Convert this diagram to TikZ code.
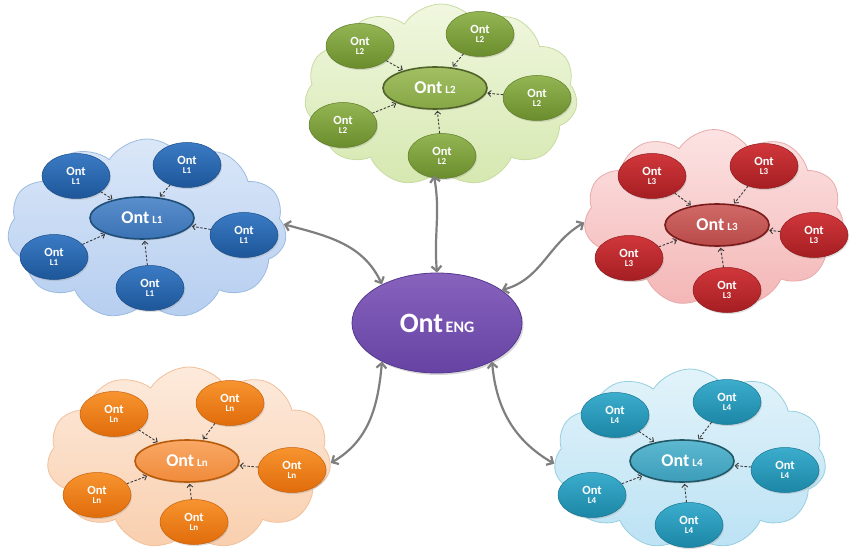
\documentclass[tikz,border=0pt]{standalone}
\usepackage{fontspec}
\setmainfont{Carlito}
\usetikzlibrary{shapes.geometric,shapes.symbols,arrows.meta,shadows}

% palette: <set><part><T|B|E> = top, bottom, edge
\definecolor{BcloudT}{HTML}{DAE7F8}\definecolor{BcloudB}{HTML}{B6CEF0}\definecolor{BcloudE}{HTML}{9DBBE0}
\definecolor{BleafT}{HTML}{3B7BC4}\definecolor{BleafB}{HTML}{1D5699}\definecolor{BleafE}{HTML}{1A4C86}
\definecolor{BhubT}{HTML}{5A8FCC}\definecolor{BhubB}{HTML}{3A72B4}\definecolor{BhubE}{HTML}{1F4E79}

\definecolor{GcloudT}{HTML}{F0F7DF}\definecolor{GcloudB}{HTML}{D6E8B0}\definecolor{GcloudE}{HTML}{C8DCA2}
\definecolor{GleafT}{HTML}{93B553}\definecolor{GleafB}{HTML}{6A8C2C}\definecolor{GleafE}{HTML}{5E7D26}
\definecolor{GhubT}{HTML}{A2C063}\definecolor{GhubB}{HTML}{86A645}\definecolor{GhubE}{HTML}{4F6228}

\definecolor{RcloudT}{HTML}{FCE3E3}\definecolor{RcloudB}{HTML}{F4B6B6}\definecolor{RcloudE}{HTML}{E8AAAA}
\definecolor{RleafT}{HTML}{D0373B}\definecolor{RleafB}{HTML}{A51E22}\definecolor{RleafE}{HTML}{8E1A1D}
\definecolor{RhubT}{HTML}{D06A68}\definecolor{RhubB}{HTML}{B84A48}\definecolor{RhubE}{HTML}{7A1A1A}

\definecolor{OcloudT}{HTML}{FDEADC}\definecolor{OcloudB}{HTML}{F9CFAE}\definecolor{OcloudE}{HTML}{F2C09A}
\definecolor{OleafT}{HTML}{F7942F}\definecolor{OleafB}{HTML}{E06C0A}\definecolor{OleafE}{HTML}{C95F08}
\definecolor{OhubT}{HTML}{F9A865}\definecolor{OhubB}{HTML}{F08A3A}\definecolor{OhubE}{HTML}{B85B0A}

\definecolor{TcloudT}{HTML}{E2F3FA}\definecolor{TcloudB}{HTML}{BCE2F4}\definecolor{TcloudE}{HTML}{95CFDF}
\definecolor{TleafT}{HTML}{3CADCD}\definecolor{TleafB}{HTML}{1C86A6}\definecolor{TleafE}{HTML}{187592}
\definecolor{ThubT}{HTML}{5DB8D0}\definecolor{ThubB}{HTML}{3C9DBA}\definecolor{ThubE}{HTML}{205867}

\definecolor{PengT}{HTML}{8763BD}\definecolor{PengB}{HTML}{6643A3}\definecolor{PengE}{HTML}{553890}
\definecolor{linkgray}{HTML}{7F7F7F}
\definecolor{feedgray}{HTML}{3A3A3A}

\newcommand\leaftext[1]{Ont\\[-2.5pt]{\fontsize{9}{9}\selectfont #1}}
\newcommand\hubtext[1]{{\fontsize{18}{18}\selectfont Ont}\hspace{0.3em}{\fontsize{11}{11}\selectfont #1}}

\tikzset{
  cloudbox/.style={cloud, cloud puffs=11, cloud puff arc=115, cloud ignores aspect,
    top color=#1cloudT, bottom color=#1cloudB, draw=#1cloudE, line width=0.8pt, inner sep=0pt},
  leaf/.style={ellipse, minimum width=68pt, minimum height=45pt, inner sep=0pt,
    top color=#1leafT, bottom color=#1leafB, draw=#1leafE, line width=0.5pt,
    text=white, font=\bfseries\fontsize{12.5}{12}\selectfont, align=center,
    drop shadow={opacity=0.25, shadow xshift=1pt, shadow yshift=-1.5pt}},
  hub/.style={ellipse, minimum width=104pt, minimum height=42pt, inner sep=0pt,
    top color=#1hubT, bottom color=#1hubB, draw=#1hubE, line width=1.6pt,
    text=white, font=\bfseries, align=center,
    drop shadow={opacity=0.25, shadow xshift=1pt, shadow yshift=-1.5pt}},
  feed/.style={draw=feedgray, line width=0.9pt, dash pattern=on 2.5pt off 1.6pt,
    -{Straight Barb[length=3pt,width=6pt]}, shorten >=1pt},
  link/.style={draw=linkgray, line width=2.2pt,
    {Straight Barb[length=5pt,width=10pt]}-{Straight Barb[length=5pt,width=10pt]}}
}

\begin{document}
\begin{tikzpicture}[x=1pt,y=1pt]
\fill[white] (0,0) rectangle (850,-553);
\useasboundingbox (0,0) rectangle (850,-553);

% clouds
\node[cloudbox=G, minimum width=273pt, minimum height=182pt] (c2) at (441,-95) {};
\node[cloudbox=B, minimum width=279pt, minimum height=180pt] (c1) at (147,-229) {};
\node[cloudbox=R, minimum width=260pt, minimum height=177pt] (c3) at (714,-218) {};
\node[cloudbox=O, minimum width=284pt, minimum height=182pt] (cn) at (189,-458) {};
\node[cloudbox=T, minimum width=272pt, minimum height=180pt] (c4) at (690,-459) {};

% central ontology
\node[ellipse, minimum width=170pt, minimum height=100pt, inner sep=0pt,
      top color=PengT, bottom color=PengB, draw=PengE, line width=0.8pt,
      text=white, font=\bfseries,
      drop shadow={opacity=0.3, shadow xshift=1.5pt, shadow yshift=-2pt}]
  (eng) at (437,-323) {{\fontsize{28}{28}\selectfont Ont}\hspace{0.25em}{\fontsize{16}{16}\selectfont ENG}};

% L2 group
\node[hub=G] (hub2) at (435,-88) {\hubtext{L2}};
\node[leaf=G] (s2a) at (360,-46) {\leaftext{L2}};
\node[leaf=G] (s2b) at (480,-34) {\leaftext{L2}};
\node[leaf=G] (s2c) at (537,-98) {\leaftext{L2}};
\node[leaf=G] (s2d) at (343,-125) {\leaftext{L2}};
\node[leaf=G] (s2e) at (442,-156) {\leaftext{L2}};

% L1 group
\node[hub=B] (hub1) at (142,-218) {\hubtext{L1}};
\node[leaf=B] (s1a) at (76,-176) {\leaftext{L1}};
\node[leaf=B] (s1b) at (187,-165) {\leaftext{L1}};
\node[leaf=B] (s1c) at (244,-235) {\leaftext{L1}};
\node[leaf=B] (s1d) at (54,-257) {\leaftext{L1}};
\node[leaf=B] (s1e) at (150,-288) {\leaftext{L1}};

% L3 group
\node[hub=R] (hub3) at (717,-225) {\hubtext{L3}};
\node[leaf=R] (s3a) at (652,-176) {\leaftext{L3}};
\node[leaf=R] (s3b) at (764,-166) {\leaftext{L3}};
\node[leaf=R] (s3c) at (814,-235) {\leaftext{L3}};
\node[leaf=R] (s3d) at (629,-258) {\leaftext{L3}};
\node[leaf=R] (s3e) at (727,-290) {\leaftext{L3}};

% Ln group
\node[hub=O] (hubn) at (187,-461) {\hubtext{Ln}};
\node[leaf=O] (sna) at (114,-414) {\leaftext{Ln}};
\node[leaf=O] (snb) at (230,-403) {\leaftext{Ln}};
\node[leaf=O] (snc) at (292,-470) {\leaftext{Ln}};
\node[leaf=O] (snd) at (97,-495) {\leaftext{Ln}};
\node[leaf=O] (sne) at (194,-522) {\leaftext{Ln}};

% L4 group
\node[hub=T] (hub4) at (682,-461) {\hubtext{L4}};
\node[leaf=T] (s4a) at (615,-415) {\leaftext{L4}};
\node[leaf=T] (s4b) at (727,-402) {\leaftext{L4}};
\node[leaf=T] (s4c) at (785,-470) {\leaftext{L4}};
\node[leaf=T] (s4d) at (592,-495) {\leaftext{L4}};
\node[leaf=T] (s4e) at (689,-525) {\leaftext{L4}};

% dashed feeds into each hub
\foreach \g in {1,2,3,4,n}
  \foreach \s in {a,b,c,d,e}
    \draw[feed] (s\g\s) -- (hub\g);

% links between the central ontology and the clouds
\draw[link] (c1.2) to[out=-15,in=115] (eng.145);
\draw[link] (c2.265) to[out=-80,in=95] (eng.90);
\draw[link] (eng.27) to[out=15,in=210] (c3.182);
\draw[link] (eng.215) to[out=265,in=30] (cn.358);
\draw[link] (eng.325) to[out=275,in=150] (c4.182);
\end{tikzpicture}
\end{document}
